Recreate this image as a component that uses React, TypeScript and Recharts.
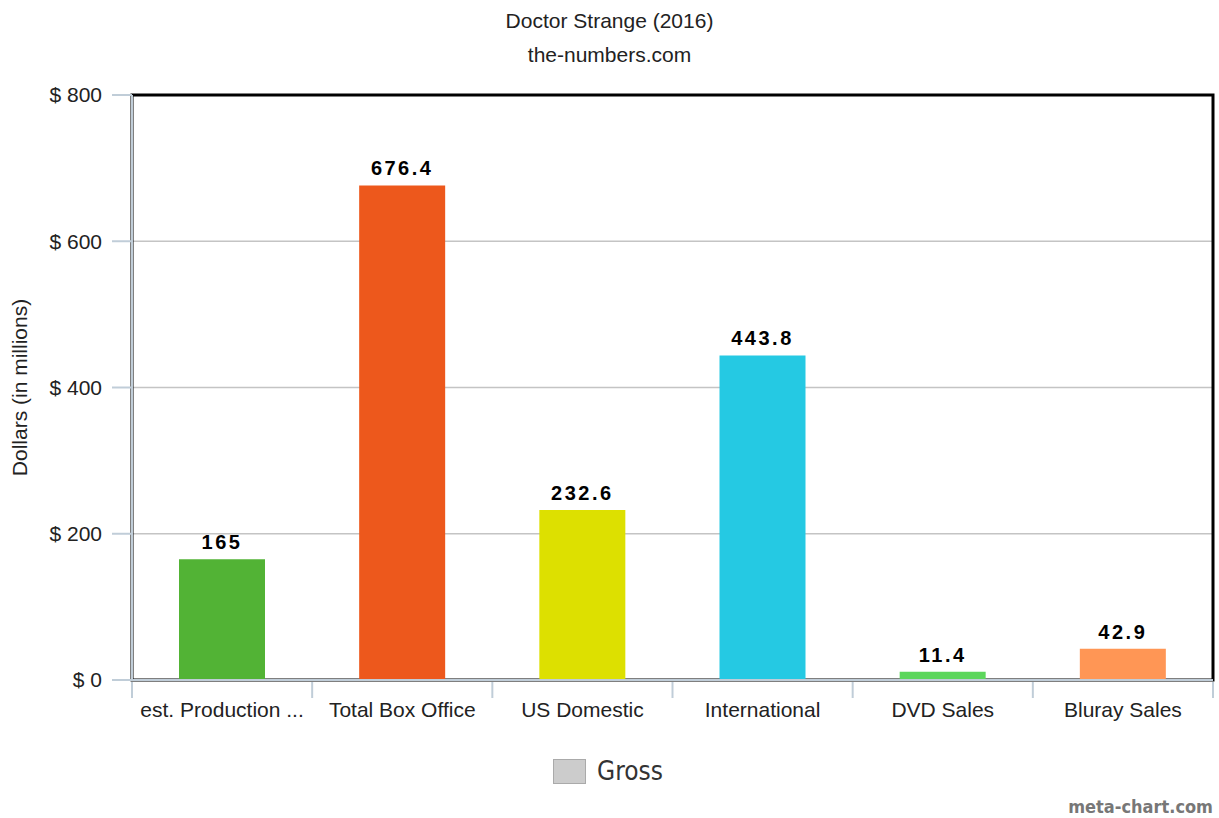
import React from 'react';
import { BarChart, Bar, XAxis, YAxis, CartesianGrid, Cell, LabelList, ReferenceArea } from 'recharts';

const categories = ['est. Production Budget', 'Total Box Office', 'US Domestic', 'International', 'DVD Sales', 'Bluray Sales'];
const gross = [165, 676.4, 232.6, 443.8, 11.4, 42.9];
const barColors = ['#52b335', '#ed581c', '#dde000', '#25c9e3', '#5cd65c', '#ff9655'];
const yTicks = [0, 200, 400, 600, 800];

const data = categories.map((name, i) => ({ name, gross: gross[i] }));

const W = 1219;
const H = 818;
const PLOT_LEFT = 132;
const PLOT_RIGHT = 1213;
const PLOT_TOP = 95;
const PLOT_BOTTOM = 680;
const X_AXIS_H = 60;
const BAND = (PLOT_RIGHT - PLOT_LEFT) / categories.length;
const FONT = '"Liberation Sans", Arial, sans-serif';
const AXIS_GRAY = '#c0cdd8';

function XTick(props: any) {
  const { x, y, payload, index } = props;
  let label = String(payload.value);
  if (label.length > 16) label = label.slice(0, 16) + ' ...';
  const left = x - BAND / 2;
  return (
    <g>
      <line x1={left} x2={left} y1={y - 16} y2={y} stroke={AXIS_GRAY} strokeWidth={2} />
      {index === categories.length - 1 && (
        <line x1={x + BAND / 2} x2={x + BAND / 2} y1={y - 16} y2={y} stroke={AXIS_GRAY} strokeWidth={2} />
      )}
      <text x={x} y={y} dy={19} textAnchor="middle" fill="#222" fontSize={21} fontFamily={FONT}>
        {label}
      </text>
    </g>
  );
}

export default function App() {
  return (
    <div style={{ position: 'absolute', left: 0, top: 0, width: W, height: H, background: '#fff', fontFamily: FONT }}>
      <div style={{ position: 'absolute', top: 9, width: W, textAlign: 'center', fontSize: 21, color: '#222' }}>
        Doctor Strange (2016)
      </div>
      <div style={{ position: 'absolute', top: 43, width: W, textAlign: 'center', fontSize: 21, color: '#222' }}>
        the-numbers.com
      </div>
      <BarChart
        width={W}
        height={H}
        data={data}
        margin={{ top: PLOT_TOP, right: W - PLOT_RIGHT, left: 0, bottom: H - PLOT_BOTTOM - X_AXIS_H }}
      >
        <CartesianGrid horizontal vertical={false} stroke="#c4c4c4" strokeWidth={1.5} />
        <XAxis
          dataKey="name"
          height={X_AXIS_H}
          tickLine={false}
          tickSize={16}
          tickMargin={2}
          axisLine={{ stroke: AXIS_GRAY, strokeWidth: 2 }}
          tick={<XTick />}
          interval={0}
        />
        <YAxis
          width={PLOT_LEFT}
          domain={[0, 800]}
          ticks={yTicks}
          tickSize={20}
          tickMargin={10}
          tickFormatter={(v: number) => `$ ${v}`}
          tick={{ fill: '#222', fontSize: 21, fontFamily: FONT }}
          tickLine={{ stroke: AXIS_GRAY, strokeWidth: 2 }}
          axisLine={{ stroke: AXIS_GRAY, strokeWidth: 2 }}
          label={{ value: 'Dollars (in millions)', angle: -90, position: 'center', dx: -46, fill: '#222', fontSize: 21, fontFamily: FONT }}
        />
        <Bar dataKey="gross" barSize={86} isAnimationActive={false}>
          {data.map((d, i) => (
            <Cell key={d.name} fill={barColors[i]} />
          ))}
          <LabelList
            dataKey="gross"
            position="top"
            offset={10}
            fill="#000"
            fontSize={20}
            fontWeight="bold"
            fontFamily={FONT}
            letterSpacing={2.5}
          />
        </Bar>
        <ReferenceArea y1={0} y2={800} fill="none" fillOpacity={0} stroke="#000" strokeWidth={3} ifOverflow="visible" />
      </BarChart>
      <div style={{ position: 'absolute', top: 756, left: 553, display: 'flex', alignItems: 'center', fontFamily: '"DejaVu Sans Condensed", "DejaVu Sans", sans-serif', fontSize: 26, color: '#333' }}>
        <span style={{ display: 'inline-block', width: 33, height: 25, background: '#cccccc', border: '1px solid #aaa', marginRight: 11, boxSizing: 'border-box' }} />
        Gross
      </div>
      <div style={{ position: 'absolute', top: 796, right: 6, fontFamily: '"DejaVu Sans Condensed", "DejaVu Sans", sans-serif', fontSize: 18, fontWeight: 'bold', color: '#777' }}>
        meta-chart.com
      </div>
    </div>
  );
}
